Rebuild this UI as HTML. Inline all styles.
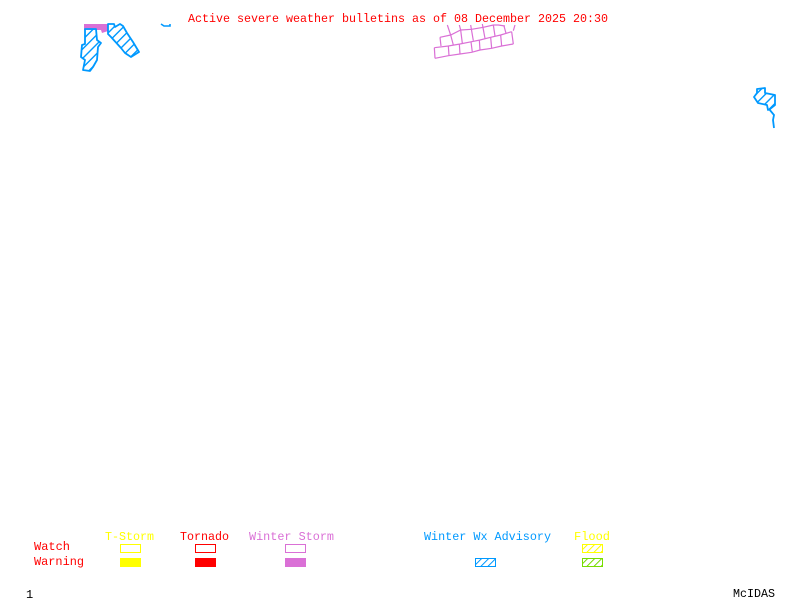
<!DOCTYPE html>
<html>
<head>
<meta charset="utf-8">
<style>
html,body{margin:0;padding:0;background:#fff;width:800px;height:600px;overflow:hidden}
svg{display:block}
text{font-family:"Liberation Mono",monospace;font-size:12px}
</style>
</head>
<body>
<svg width="800" height="600" viewBox="0 0 800 600" xmlns="http://www.w3.org/2000/svg">
<defs>
<pattern id="hb" width="6.6" height="6.6" patternUnits="userSpaceOnUse" patternTransform="rotate(45)"><rect x="0" y="0" width="1.4" height="6.6" fill="#0099ff"/></pattern>
<pattern id="hl" width="5" height="5" patternUnits="userSpaceOnUse" patternTransform="rotate(45)"><rect x="0" y="0" width="1" height="5" fill="#0099ff"/></pattern>
<pattern id="hy" width="5" height="5" patternUnits="userSpaceOnUse" patternTransform="rotate(45)"><rect x="0" y="0" width="1" height="5" fill="#ffff00"/></pattern>
<pattern id="hg" width="5" height="5" patternUnits="userSpaceOnUse" patternTransform="rotate(45)"><rect x="0" y="0" width="1" height="5" fill="#77dd00"/></pattern>
</defs>

<text x="188" y="22" fill="#ff0000" textLength="420" lengthAdjust="spacingAndGlyphs">Active severe weather bulletins as of 08 December 2025 20:30</text>

<polygon points="84,24 108,24 108,31 102,33 101,30 91,30 84,30" fill="#da70d6"/>

<g fill="url(#hb)" stroke="#0099ff" stroke-width="1.8" stroke-linejoin="round">
<polygon points="85,29 96,29 97,40 101,43 98,47 97,60 93,67 90,71 83,70 85,60 81,57 82,45 85,44"/>
<polygon points="108,24 114,24 115,27 120,24 123,26 127,33 133,42 139,52 131,57 125,53 121,48 111,37 108,34"/>
<polygon points="757,89 765,88 765,93 775,95 775,105 770,109 768,110 767,105 758,103 754,97 757,93"/>
</g>
<polyline points="769,109 774,115 773,120 774,128" fill="none" stroke="#0099ff" stroke-width="1.8"/>
<polyline points="161,24 164,26 167,26 170,26 170,24" fill="none" stroke="#0099ff" stroke-width="1.6"/>

<g transform="translate(430,20) scale(0.3333)" fill="none" stroke="#da70d6" stroke-width="3.6">
<polyline points="13,83 55,78 90,72 125,65 150,60 182,52 212,45 245,35"/>
<polyline points="15,115 55,107 90,102 125,97 150,90 185,85 215,78 250,72"/>
<line x1="13" y1="83" x2="15" y2="115"/>
<line x1="55" y1="78" x2="57" y2="107"/>
<line x1="88" y1="72" x2="90" y2="102"/>
<line x1="123" y1="65" x2="127" y2="97"/>
<line x1="148" y1="60" x2="150" y2="90"/>
<line x1="182" y1="52" x2="185" y2="85"/>
<line x1="212" y1="45" x2="215" y2="78"/>
<line x1="245" y1="35" x2="250" y2="72"/>
<polyline points="30,52 62,45 92,30 125,28 160,22 190,15 205,15 225,18"/>
<line x1="30" y1="52" x2="33" y2="78"/>
<polyline points="52,15 62,45 70,75"/>
<polyline points="88,15 92,30 97,70"/>
<line x1="122" y1="15" x2="130" y2="62"/>
<line x1="157" y1="12" x2="165" y2="55"/>
<line x1="190" y1="15" x2="195" y2="48"/>
<line x1="222" y1="18" x2="228" y2="40"/>
<line x1="255" y1="15" x2="250" y2="32"/>
</g>

<text x="105" y="540" fill="#ffff00" textLength="49" lengthAdjust="spacingAndGlyphs">T-Storm</text>
<text x="180" y="540" fill="#ff0000" textLength="49" lengthAdjust="spacingAndGlyphs">Tornado</text>
<text x="249" y="540" fill="#da70d6" textLength="85" lengthAdjust="spacingAndGlyphs">Winter Storm</text>
<text x="424" y="540" fill="#0099ff" textLength="127" lengthAdjust="spacingAndGlyphs">Winter Wx Advisory</text>
<text x="574" y="540" fill="#ffff00" textLength="36" lengthAdjust="spacingAndGlyphs">Flood</text>
<text x="34" y="550" fill="#ff0000" textLength="36" lengthAdjust="spacingAndGlyphs">Watch</text>
<text x="34" y="565" fill="#ff0000" textLength="50" lengthAdjust="spacingAndGlyphs">Warning</text>
<text x="26" y="598" fill="#000000">1</text>
<text x="733" y="597" fill="#000000" textLength="42" lengthAdjust="spacingAndGlyphs">McIDAS</text>

<g shape-rendering="crispEdges" stroke-width="1">
<rect x="120.5" y="544.5" width="20" height="8" fill="none" stroke="#ffff00"/>
<rect x="195.5" y="544.5" width="20" height="8" fill="none" stroke="#ff0000"/>
<rect x="285.5" y="544.5" width="20" height="8" fill="none" stroke="#da70d6"/>
<rect x="120" y="558" width="21" height="9" fill="#ffff00"/>
<rect x="195" y="558" width="21" height="9" fill="#ff0000"/>
<rect x="285" y="558" width="21" height="9" fill="#da70d6"/>
</g>
<rect x="475.5" y="558.5" width="20" height="8" fill="url(#hl)" stroke="#0099ff"/>
<rect x="582.5" y="544.5" width="20" height="8" fill="url(#hy)" stroke="#ffff00"/>
<rect x="582.5" y="558.5" width="20" height="8" fill="url(#hg)" stroke="#77dd00"/>
</svg>
</body>
</html>
